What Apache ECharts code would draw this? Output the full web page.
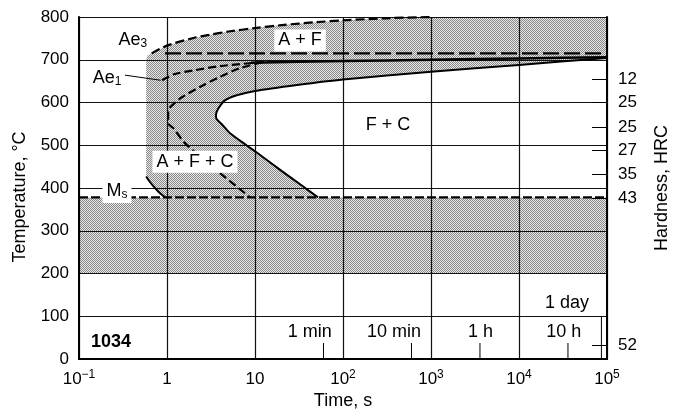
<!DOCTYPE html>
<html><head><meta charset="utf-8">
<script src="https://cdn.jsdelivr.net/npm/echarts@6/dist/echarts.min.js"></script>
<style>html,body{margin:0;padding:0;background:#fff}#c{width:679px;height:411px}</style>
</head><body><div id="c"></div>
<script>
// ---- data (time in s, temperature in °C) ----
const xTickLabels = ['10^−1','1','10','10^2','10^3','10^4','10^5'];
const hardnessTemps = [655, 600, 543, 489, 433, 375, 31];
const hardnessLabels = ['12','25','25','27','35','43','52'];
const msTemp = 378;
const ae3Curve = [[0.67,715],[1,733],[2,751],[3,758],[5,766],[10,774],[20,781],[50,788],[100,792],[300,797],[1000,800]];
const ae1Line = [[0.95,715],[100000,715]];
const startEdge = [[0.58,427],[0.58,700],[0.6,710],[0.67,715]];
const hookCurve = [[0.58,427],[0.64,414],[0.73,400],[0.84,387],[0.95,378]];
const finishCurve = [[100000,704],[10000,688],[1000,672],[100,654],[30,641],[10,627],[6.2,617],[4.55,605],[3.83,586],[3.6,571],[3.65,562],[4.2,549],[5.2,528],[8,500],[10,486],[20,440],[35,404],[52,378]];
const upperDashed = [[0.88,652],[1.2,666],[2,675],[4,685],[10,693],[15,696]];
const midDashed = [[12,694],[6.7,680],[4,660],[2.4,637],[1.5,613],[1.18,596],[1.03,580],[1.03,552],[1.18,540],[1.6,505],[2.7,465],[4,435],[8.8,378]];
const solid700 = [[9,693],[100,697],[1000,700],[10000,703],[100000,706]];
const msLine = [[0.1,msTemp],[100000,msTemp]];
const lowerBand = [[0.1,200],[100000,200],[100000,msTemp],[0.1,msTemp]];
const ae1ArrowFrom = [0.333,664], ae1ArrowTo = [0.85,652];
const timeMarks = [60, 600, 3600, 36000, 86400];
const annTexts = ['{m|Ae}{s|3}','{m|Ae}{s|1}','A + F','F + C','A + F + C','{m|M}{s|s}','1034','1 min','10 min','1 h','10 h','1 day'];
const annTimes = [0.41, 0.208, 32.5, 324, 2.08, 0.27, 0.231, 42, 379, 3650, 32300, 35200];
const annTemps = [746, 658, 745, 547, 461.5, 393, 38.6, 62, 62, 62, 62, 131];

// ---- build ----
const FONT = 'Liberation Sans, Arial, Helvetica, sans-serif';
const upperShade = [].concat(hookCurve.slice().reverse(), startEdge.slice(1), ae3Curve.slice(1), [[100000,800]], finishCurve);
const shadeRegions = [upperShade, lowerBand];

const pc = document.createElement('canvas'); pc.width = 2; pc.height = 2;
const g = pc.getContext('2d');
g.fillStyle = '#e8e8e8'; g.fillRect(0,0,2,2);
g.fillStyle = '#888888'; g.fillRect(0,0,1,1); g.fillRect(1,1,1,1);
const stipple = {image: pc, repeat: 'repeat'};

function lineS(data, type, width, smooth) {
  return {type:'line', data, showSymbol:false, symbol:'none', smooth: smooth||0, z:3, silent:true,
    lineStyle:{color:'#000', width, type}};
}
const boxed = {2:true, 4:true, 5:true};
const rich = {
  m:{fontSize:18, fontFamily:FONT, lineHeight:20},
  s:{fontSize:12, fontFamily:FONT, lineHeight:8, verticalAlign:'bottom'}
};

const chart = echarts.init(document.getElementById('c'), null, {renderer:'canvas'});
chart.setOption({
  animation:false,
  backgroundColor:'#fff',
  grid:{left:79, right:72, top:17, bottom:52, outerBoundsMode:'none', containLabel:false},
  xAxis:[{
    type:'log', logBase:10, min:0.1, max:100000, z:2,
    name:'Time, s', nameLocation:'middle', nameGap:33,
    nameTextStyle:{fontSize:18, fontFamily:FONT, color:'#000'},
    axisLine:{show:true, lineStyle:{color:'#000', width:2}},
    axisTick:{show:false}, minorTick:{show:false},
    splitLine:{show:true, lineStyle:{color:'#111', width:1.2}},
    axisLabel:{margin:10, color:'#000', fontFamily:FONT, fontSize:17,
      formatter:(v)=>{
        const i = Math.round(Math.log10(v)) + 1;
        const s = xTickLabels[i] || '';
        const parts = s.split('^');
        return parts.length > 1 ? '{b|' + parts[0] + '}{p|' + parts[1] + '}' : '{b|' + s + '}';
      },
      rich:{b:{fontSize:17, fontFamily:FONT, lineHeight:20, color:'#000'},
            p:{fontSize:12, fontFamily:FONT, lineHeight:13, verticalAlign:'top', color:'#000'}}
    }
  },{
    type:'log', logBase:10, min:0.1, max:100000, position:'top', z:2,
    axisLine:{show:true, lineStyle:{color:'#000', width:2}},
    axisTick:{show:false}, axisLabel:{show:false}, splitLine:{show:false}
  }],
  yAxis:[{
    type:'value', min:0, max:800, interval:100, z:2,
    name:'Temperature, °C', nameLocation:'middle', nameGap:50,
    nameTextStyle:{fontSize:18, fontFamily:FONT, color:'#000', padding:[0,0,0,-18]},
    axisLine:{show:true, lineStyle:{color:'#000', width:2}},
    axisTick:{show:false},
    splitLine:{show:true, lineStyle:{color:'#111', width:1.2}},
    axisLabel:{margin:10, color:'#000', fontFamily:FONT, fontSize:17}
  },{
    type:'value', min:0, max:800, position:'right', z:2,
    name:'Hardness, HRC', nameLocation:'middle', nameGap:46, nameRotate:90,
    nameTextStyle:{fontSize:18, fontFamily:FONT, color:'#000'},
    axisLine:{show:true, lineStyle:{color:'#000', width:2}},
    axisTick:{show:true, inside:true, length:15, customValues:hardnessTemps, lineStyle:{color:'#000', width:1}},
    splitLine:{show:false},
    axisLabel:{margin:11, color:'#000', fontFamily:FONT, fontSize:17, customValues:hardnessTemps,
      formatter:(v)=>{ const i = hardnessTemps.indexOf(v); return i >= 0 ? hardnessLabels[i] : ''; }}
  }],
  series:[
    {type:'custom', z:1, silent:true, clip:true,
     data: shadeRegions.map((r,i)=>[r[0][0], r[0][1]]),
     renderItem:(params, api)=>({type:'polygon',
       shape:{points: shadeRegions[params.dataIndex].map(p=>api.coord(p))},
       style:{fill: stipple, stroke:null}})
    },
    lineS(ae3Curve, [9,4], 2.2, 0.3),
    lineS(ae1Line, [16,5], 2.2),
    lineS(upperDashed, [8,4], 2.2, 0.3),
    lineS(midDashed, [8,4], 2.2, 0.3),
    lineS(msLine, [9,3], 2.2),
    lineS(finishCurve, 'solid', 2, 0.2),
    lineS(solid700, 'solid', 2.5, 0.2),
    lineS(hookCurve, 'solid', 2, 0.3),
    {type:'line', data:[], z:3, silent:true,
     markLine:{silent:true, symbol:['none','arrow'], symbolSize:[0,7], label:{show:false},
       lineStyle:{color:'#000', width:1, type:'solid'},
       data:[[{coord:ae1ArrowFrom},{coord:ae1ArrowTo}]]}},
    {type:'custom', z:3, silent:true, clip:false,
     data: timeMarks.map(t=>[t,0]),
     renderItem:(params, api)=>{
       const t = timeMarks[params.dataIndex];
       const b = api.coord([t,0]);
       const top = t === 86400 ? api.coord([t,100])[1] : b[1]-16;
       return {type:'line', shape:{x1:b[0], y1:b[1], x2:b[0], y2:top}, style:{stroke:'#000', lineWidth:1}};
     }},
    {type:'custom', z:5, silent:true, clip:false,
     data: annTexts.map((s,i)=>[annTimes[i], annTemps[i]]),
     renderItem:(params, api)=>{
       const i = params.dataIndex;
       const p = api.coord([annTimes[i], annTemps[i]]);
       return {type:'text', x:p[0], y:p[1], z2:10, style:{
         text: annTexts[i], rich: rich, fontSize:18, fontFamily:FONT,
         fontWeight: i === 6 ? 'bold' : 'normal',
         fill:'#000', align:'center', verticalAlign:'middle',
         backgroundColor: boxed[i] ? '#fff' : null, padding: boxed[i] ? [2,4,2,4] : 0}};
     }}
  ]
});
</script></body></html>
